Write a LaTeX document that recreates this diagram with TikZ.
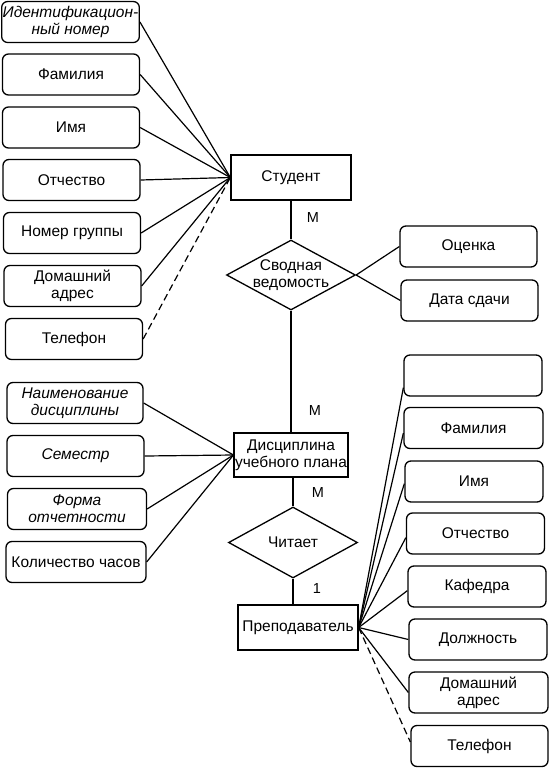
\documentclass[tikz,border=0pt]{standalone}
\usepackage{fontspec}
\setmainfont{Liberation Sans}
\usetikzlibrary{shapes.geometric}
\begin{document}
\begin{tikzpicture}[x=1pt,y=-1pt,
  attr/.style={draw,line width=1.3pt,rounded corners=6pt,minimum width=137pt,minimum height=41pt,inner sep=1pt,align=center,font=\fontsize{15.5}{17}\selectfont},
  ent/.style={draw,line width=1.3pt,minimum width=120pt,minimum height=45pt,inner sep=1pt,align=center,font=\fontsize{15.5}{17}\selectfont},
  rel/.style={draw,line width=1.3pt,diamond,inner sep=0pt,minimum width=129pt,minimum height=70pt},
  rtext/.style={align=center,inner sep=0pt,font=\fontsize{15.5}{17}\selectfont},
  conn/.style={line width=1.2pt},
  opt/.style={line width=1.2pt,dash pattern=on 7pt off 4pt},
  card/.style={font=\fontsize{14.5}{16}\selectfont,inner sep=0pt}]
\useasboundingbox (0,0) rectangle (550,769);
% student attributes
\node[attr] (s1) at (70.5,22) {\itshape Идентификацион-\\\itshape ный номер};
\node[attr] (s2) at (71,74.5) {Фамилия};
\node[attr] (s3) at (71,127.5) {Имя};
\node[attr] (s4) at (71.5,180) {Отчество};
\node[attr] (s5) at (72,233) {Номер группы};
\node[attr] (s6) at (72.5,286) {Домашний\\адрес};
\node[attr] (s7) at (74,339) {Телефон};
\node[ent] (stud) at (291,177.5) {Студент};
\foreach \i in {1,...,6} \draw[conn] (s\i.east) -- (stud.west);
\draw[opt] (s7.east) -- (stud.west);
% relation 1
\node[rel] (r1) at (291,275) {};
\node[rtext] (r1t) at (r1.center) {Сводная\\ведомость};
\node[attr] (o1) at (468.5,246.5) {Оценка};
\node[attr] (o2) at (469.5,300.5) {Дата сдачи};
\draw[conn] (r1.east) -- (o1.west);
\draw[conn] (r1.east) -- (o2.west);
\draw[conn] (stud.south) -- (r1.north);
\node[card] (m1) at (313,218) {M};
% discipline
\node[ent,minimum width=112pt,minimum height=44pt] (disc) at (291,455) {Дисциплина\\учебного плана};
\draw[conn] (r1.south) -- (disc.north);
\node[card] (m2) at (315,411) {M};
\node[attr,minimum width=136pt] (d1) at (75,403) {\itshape Наименование\\\itshape дисциплины};
\node[attr] (d2) at (75.5,456) {\itshape Семестр};
\node[attr,minimum width=139pt] (d3) at (77,509) {\itshape Форма\\\itshape отчетности};
\node[attr,minimum width=140pt] (d4) at (76,562) {Количество часов};
\foreach \i in {1,...,4} \draw[conn] (d\i.east) -- (disc.west);
% relation 2
\node[rel,minimum height=71pt] (r2) at (293,542.5) {};
\node[rtext] (r2t) at (r2.center) {Читает};
\draw[conn] (disc.south -| r2.north) -- (r2.north);
\node[card] (m3) at (318,493) {M};
\node[ent] (teach) at (298,627.5) {Преподаватель};
\draw[conn] (r2.south) -- (r2.south |- teach.north);
\node[card] (one) at (317,589) {1};
% teacher attributes
\node[attr,minimum width=138pt] (t1) at (473,375.5) {};
\node[attr,minimum width=139pt] (t2) at (473.5,428) {Фамилия};
\node[attr,minimum width=138pt] (t3) at (474,481.5) {Имя};
\node[attr,minimum width=138pt] (t4) at (475.5,533.5) {Отчество};
\node[attr,minimum width=138pt] (t5) at (477,586.5) {Кафедра};
\node[attr,minimum width=138pt] (t6) at (478,639.5) {Должность};
\node[attr,minimum width=139pt] (t7) at (478.5,692.5) {Домашний\\адрес};
\node[attr] (t8) at (479.5,746) {Телефон};
\draw[conn] (teach.east) -- ([yshift=9pt]t1.south west);
\draw[conn] (teach.east) -- ([yshift=16pt]t2.south west);
\draw[conn] (teach.east) -- ([yshift=19pt]t3.south west);
\draw[conn] (teach.east) -- ([yshift=17pt]t4.south west);
\draw[conn] (teach.east) -- ([yshift=17pt]t5.south west);
\draw[conn] (teach.east) -- (t6.west);
\draw[conn] (teach.east) -- (t7.west);
\draw[opt] (teach.east) -- ([yshift=4pt]t8.west);
\end{tikzpicture}
\end{document}
